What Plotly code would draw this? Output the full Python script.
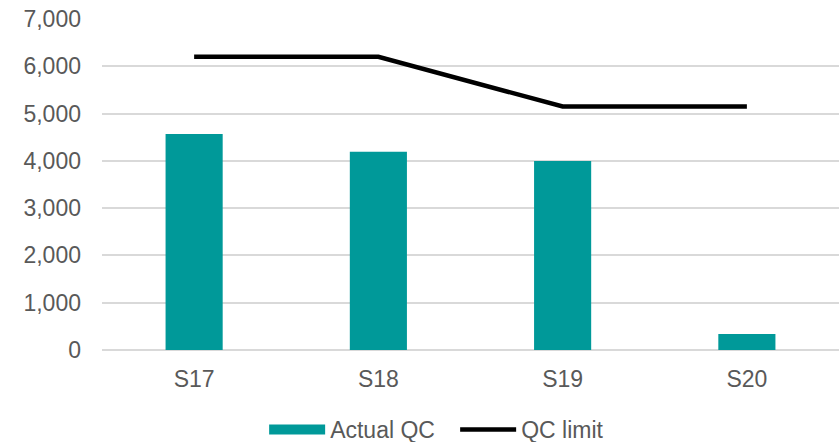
import plotly.graph_objects as go

categories = ["S17", "S18", "S19", "S20"]
actual_qc = [4570, 4190, 3995, 340]
qc_limit = [6200, 6200, 5150, 5150]

TEAL = "#009999"

fig = go.Figure()
fig.add_trace(go.Bar(
    x=categories, y=actual_qc, name="Actual QC",
    marker=dict(color=TEAL, line=dict(width=0)),
    width=0.31, showlegend=False,
))
# legend-only entry with a wide rectangle-like symbol for the bar series
fig.add_trace(go.Scatter(
    x=[None], y=[None], name="Actual QC", mode="lines",
    line=dict(color=TEAL, width=13),
))
fig.add_trace(go.Scatter(
    x=categories, y=qc_limit, name="QC limit", mode="lines",
    line=dict(color="#000000", width=4.5),
))

fig.update_layout(
    width=839, height=442,
    margin=dict(l=102, r=0, t=19, b=92, autoexpand=False),
    paper_bgcolor="white", plot_bgcolor="white",
    font=dict(family="Liberation Sans, Arial, sans-serif", size=23, color="#595959"),
    showlegend=True,
    legend=dict(orientation="h", x=0.22, xanchor="left", y=-0.24, yanchor="middle",
                font=dict(size=23, color="#595959"), traceorder="normal",
                itemwidth=56, tracegroupgap=0, entrywidth=120),
    bargap=0.69,
)
fig.update_yaxes(
    range=[0, 7000], dtick=1000, tickformat=",d",
    showgrid=True, gridcolor="#d9d9d9", gridwidth=1.5,
    zeroline=True, zerolinecolor="#d9d9d9", zerolinewidth=1.5,
    showline=False, ticks="", ticklabelstandoff=20, automargin=False,
)
fig.update_xaxes(
    showgrid=False, showline=False, ticks="", ticklabelstandoff=13, automargin=False,
)

fig.write_html("out.html")
